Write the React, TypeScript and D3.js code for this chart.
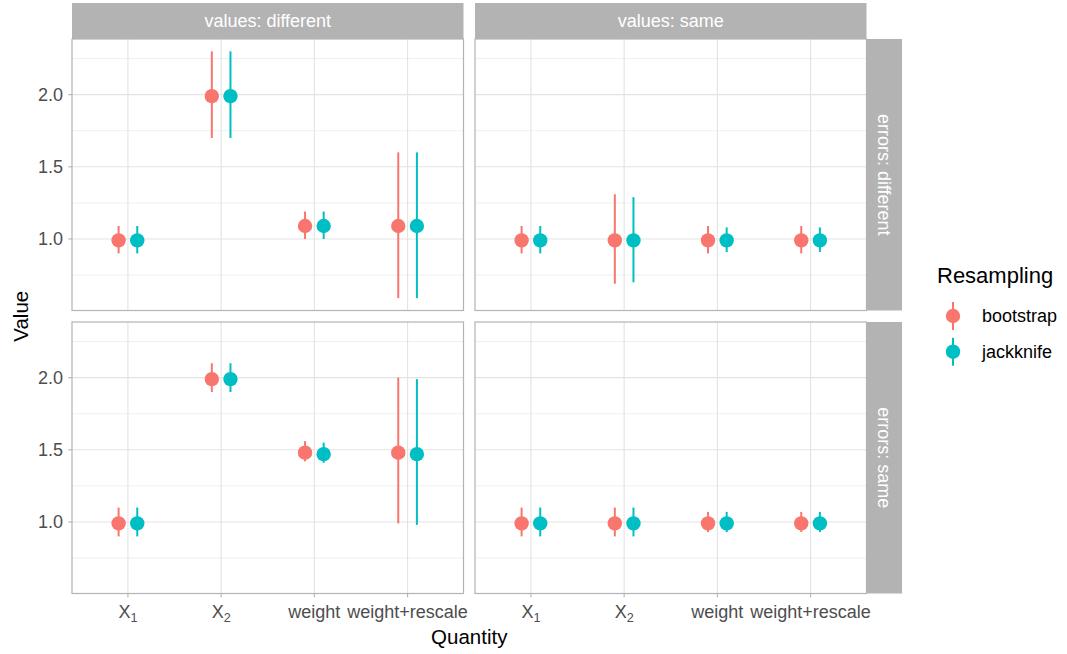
import React from "react";
import * as d3 from "d3";

// ---- data ----
const quantities = ["X1", "X2", "weight", "weight+rescale"];
const quantityLabels: [string, string][] = [["X", "1"], ["X", "2"], ["weight", ""], ["weight+rescale", ""]];
const methods = ["bootstrap", "jackknife"];
const methodColors = ["#F8766D", "#00BFC4"];
const valuesFacets = ["values: different", "values: same"];
const errorsFacets = ["errors: different", "errors: same"];
const yTicks = [1.0, 1.5, 2.0];
const yMinor = [0.75, 1.25, 1.75, 2.25];

// [estimate, lower, upper] per quantity
// values: different, errors: different
const vdEdBootstrap = [[0.99, 0.90, 1.09], [1.99, 1.70, 2.30], [1.09, 1.00, 1.19], [1.09, 0.59, 1.60]];
const vdEdJackknife = [[0.99, 0.90, 1.09], [1.99, 1.70, 2.30], [1.09, 1.00, 1.19], [1.09, 0.59, 1.60]];
// values: same, errors: different
const vsEdBootstrap = [[0.99, 0.90, 1.09], [0.99, 0.69, 1.31], [0.99, 0.90, 1.09], [0.99, 0.90, 1.09]];
const vsEdJackknife = [[0.99, 0.90, 1.09], [0.99, 0.70, 1.29], [0.99, 0.91, 1.08], [0.99, 0.91, 1.08]];
// values: different, errors: same
const vdEsBootstrap = [[0.99, 0.90, 1.10], [1.99, 1.90, 2.10], [1.48, 1.42, 1.56], [1.48, 0.99, 2.00]];
const vdEsJackknife = [[0.99, 0.90, 1.10], [1.99, 1.90, 2.10], [1.47, 1.41, 1.55], [1.47, 0.98, 1.99]];
// values: same, errors: same
const vsEsBootstrap = [[0.99, 0.90, 1.10], [0.99, 0.90, 1.10], [0.99, 0.93, 1.07], [0.99, 0.93, 1.07]];
const vsEsJackknife = [[0.99, 0.90, 1.10], [0.99, 0.90, 1.10], [0.99, 0.93, 1.07], [0.99, 0.93, 1.07]];

// panels[row][col] -> [bootstrap, jackknife]
const panels = [
  [[vdEdBootstrap, vdEdJackknife], [vsEdBootstrap, vsEdJackknife]],
  [[vdEsBootstrap, vdEsJackknife], [vsEsBootstrap, vsEsJackknife]],
];

const FONT = "'Liberation Sans', Arial, Helvetica, sans-serif";

export default function App() {
  const W = 1067, H = 654;
  const cols: [number, number][] = [[72, 463.5], [475, 866.5]];
  const rows: [number, number][] = [[39, 310.5], [322, 593.5]];
  const stripTop = 3;
  const stripRightX: [number, number] = [866.5, 902];

  const all = panels.flat(3) as number[][];
  const lo = d3.min(all, (d) => d[1])!;
  const hi = d3.max(all, (d) => d[2])!;
  const pad = (hi - lo) * 0.05;
  const yDomain = [lo - pad, hi + pad];

  const dodge = 0.1;
  const gridCol = "#E3E3E3";
  const minorCol = "#EDEDED";
  const border = "#B3B3B3";

  return (
    <svg width={W} height={H} style={{ position: "absolute", left: 0, top: 0 }} fontFamily={FONT}>
      <rect x={0} y={0} width={W} height={H} fill="#fff" />
      {rows.map((r, ri) =>
        cols.map((c, ci) => {
          const x = d3.scalePoint<string>().domain(quantities).range(c).padding(0.6);
          const step = x.step();
          const y = d3.scaleLinear().domain(yDomain).range([r[1], r[0]]);
          const series = panels[ri][ci];
          return (
            <g key={`p${ri}${ci}`}>
              {yMinor.map((v) => (
                <line key={`mn${v}`} x1={c[0]} x2={c[1]} y1={y(v)} y2={y(v)} stroke={minorCol} strokeWidth={0.9} />
              ))}
              {yTicks.map((v) => (
                <line key={`mj${v}`} x1={c[0]} x2={c[1]} y1={y(v)} y2={y(v)} stroke={gridCol} strokeWidth={1.1} />
              ))}
              {quantities.map((q) => (
                <line key={`vx${q}`} x1={x(q)} x2={x(q)} y1={r[0]} y2={r[1]} stroke={gridCol} strokeWidth={1.1} />
              ))}
              {series.map((s, mi) =>
                s.map((d, qi) => {
                  const cx = x(quantities[qi])! + (mi === 0 ? -dodge : dodge) * step;
                  return (
                    <g key={`m${mi}${qi}`}>
                      <line x1={cx} x2={cx} y1={y(d[1])} y2={y(d[2])} stroke={methodColors[mi]} strokeWidth={2} />
                      <circle cx={cx} cy={y(d[0])} r={7.2} fill={methodColors[mi]} />
                    </g>
                  );
                })
              )}
              <rect x={c[0]} y={r[0]} width={c[1] - c[0]} height={r[1] - r[0]} fill="none" stroke={border} strokeWidth={1.2} />
              {ci === 0 &&
                yTicks.map((v) => (
                  <g key={`yt${v}`}>
                    <line x1={c[0] - 3.7} x2={c[0]} y1={y(v)} y2={y(v)} stroke={border} strokeWidth={1.1} />
                    <text x={c[0] - 9} y={y(v)} dy="0.35em" textAnchor="end" fontSize={18} fill="#4D4D4D">
                      {d3.format(".1f")(v)}
                    </text>
                  </g>
                ))}
              {ri === 1 &&
                quantities.map((q, qi) => (
                  <g key={`xt${q}`}>
                    <line x1={x(q)} x2={x(q)} y1={r[1]} y2={r[1] + 3.7} stroke={border} strokeWidth={1.1} />
                    <text x={x(q)} y={618} textAnchor="middle" fontSize={18} fill="#4D4D4D">
                      {quantityLabels[qi][0]}
                      {quantityLabels[qi][1] && (
                        <tspan fontSize={12.6} dy={4}>{quantityLabels[qi][1]}</tspan>
                      )}
                    </text>
                  </g>
                ))}
              {ri === 0 && (
                <g>
                  <rect x={c[0]} y={stripTop} width={c[1] - c[0]} height={r[0] - stripTop} fill="#B3B3B3" />
                  <text x={(c[0] + c[1]) / 2} y={(stripTop + r[0]) / 2} dy="0.35em" textAnchor="middle" fontSize={18} fill="#fff">
                    {valuesFacets[ci]}
                  </text>
                </g>
              )}
              {ci === 1 && (
                <g>
                  <rect x={stripRightX[0]} y={r[0]} width={stripRightX[1] - stripRightX[0]} height={r[1] - r[0]} fill="#B3B3B3" />
                  <text
                    transform={`translate(${(stripRightX[0] + stripRightX[1]) / 2},${(r[0] + r[1]) / 2}) rotate(90)`}
                    dy="0.35em"
                    textAnchor="middle"
                    fontSize={18}
                    fill="#fff"
                  >
                    {errorsFacets[ri]}
                  </text>
                </g>
              )}
            </g>
          );
        })
      )}
      {/* axis titles */}
      <text x={(cols[0][0] + cols[1][1]) / 2} y={643.5} textAnchor="middle" fontSize={20.5} fill="#000">
        Quantity
      </text>
      <text transform={`translate(28,${(rows[0][0] + rows[1][1]) / 2}) rotate(-90)`} textAnchor="middle" fontSize={20.5} fill="#000">
        Value
      </text>
      {/* legend */}
      <text x={937} y={283} fontSize={22} fill="#000">Resampling</text>
      {methods.map((m, i) => {
        const cy = 316 + i * 35.7;
        return (
          <g key={m}>
            <line x1={953} x2={953} y1={cy - 14} y2={cy + 14} stroke={methodColors[i]} strokeWidth={2} />
            <circle cx={953} cy={cy} r={7.2} fill={methodColors[i]} />
            <text x={982} y={cy} dy="0.35em" fontSize={18} fill="#000">{m}</text>
          </g>
        );
      })}
    </svg>
  );
}
